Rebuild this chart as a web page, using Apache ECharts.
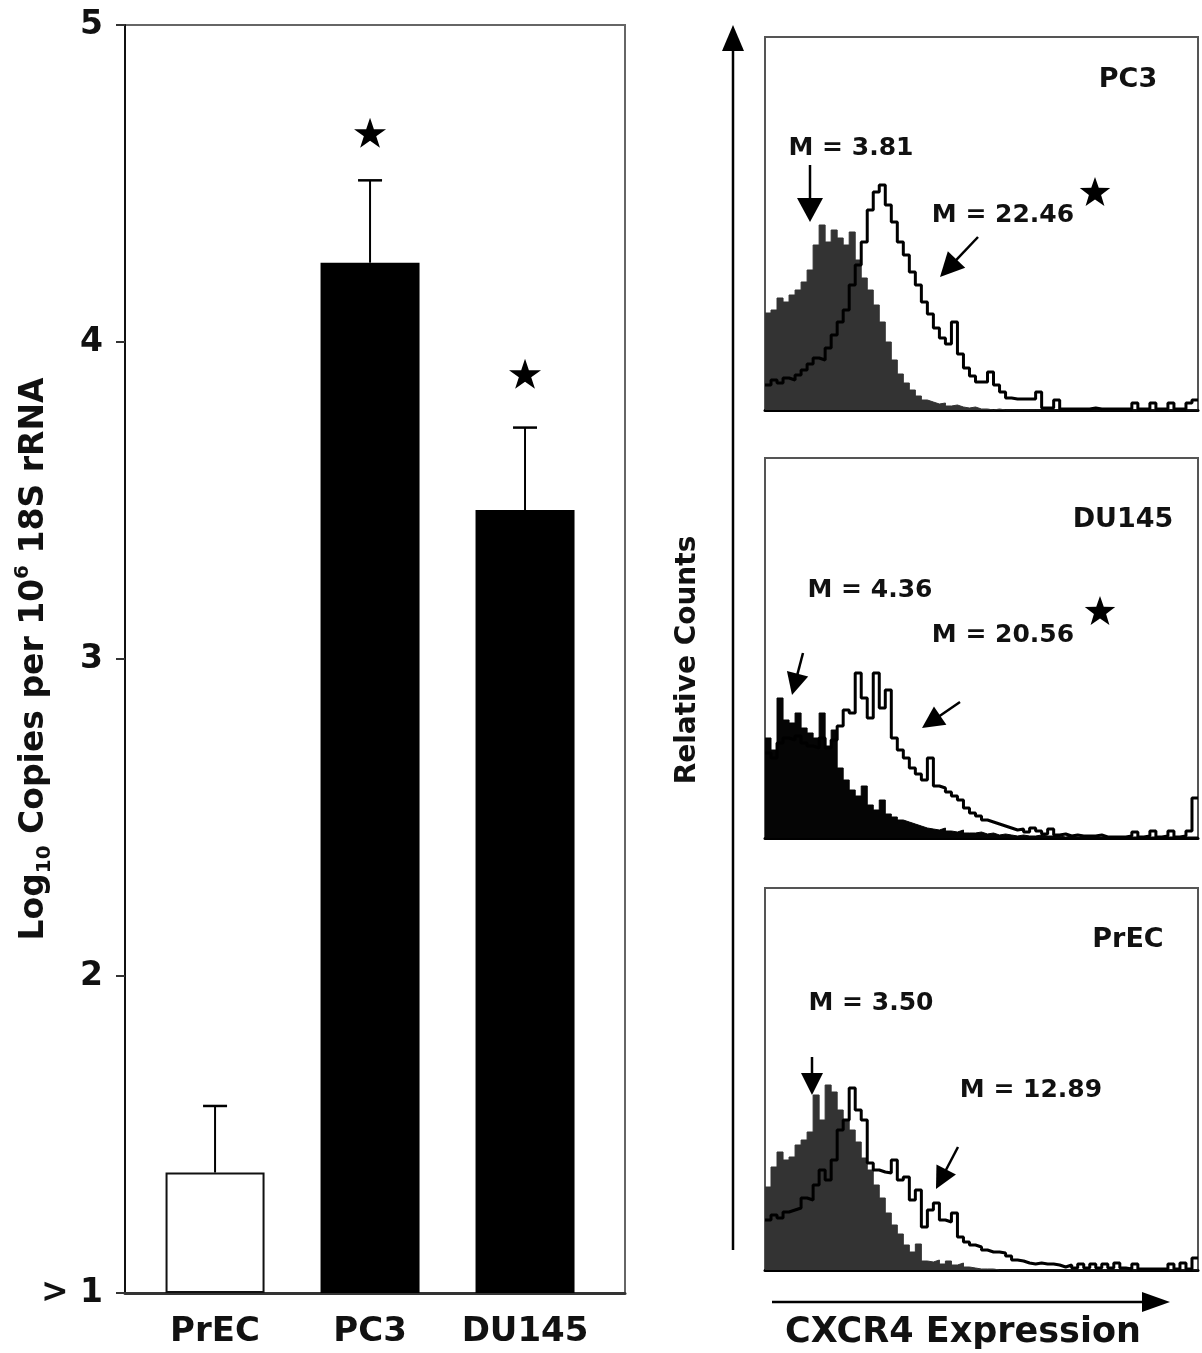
<!DOCTYPE html>
<html><head><meta charset="utf-8">
<script src="https://cdn.jsdelivr.net/npm/echarts@6/dist/echarts.min.js"></script>
<style>html,body{margin:0;padding:0;background:#fff}#c{width:1202px;height:1353px}</style>
</head><body><div id="c"></div>
<script>
// ---------- Left panel: qPCR bar chart ----------
const categories = ['PrEC', 'PC3', 'DU145'];
const meanValues = [1.38, 4.25, 3.47];
const errorTops = [1.59, 4.51, 3.73];
const starValues = [null, 4.66, 3.90];
const yTickValues = [1, 2, 3, 4, 5];

// ---------- Right panels: flow cytometry histograms (72 bins) ----------
const pc3Isotype = [97,100,112,108,115,120,128,140,165,185,168,180,172,165,178,150,132,120,105,88,68,50,36,27,20,14,10,8,6,7,4,5,3,2,3,1,1,0,1,0,0,0,0,0,0,0,0,0,0,0,0,0,0,0,0,0,0,0,0,0,0,0,0,0,0,0,0,0,0,0,0,0];
const pc3Cxcr4 = [25,30,27,32,30,35,40,46,52,50,62,75,88,100,125,145,168,200,218,225,205,188,168,155,138,125,108,96,82,72,66,88,56,42,34,28,28,38,25,18,12,11,11,11,11,18,2,2,10,1,1,1,1,1,2,1,1,1,1,1,1,7,1,1,7,1,1,7,1,1,7,10];
const du145Isotype = [100,88,140,118,115,125,110,105,100,125,92,108,70,58,48,42,52,33,28,38,24,21,18,16,14,12,10,9,8,10,7,6,8,5,5,6,4,5,3,4,3,2,3,2,2,3,2,2,2,1,2,1,1,2,1,1,1,1,1,1,1,1,1,1,1,1,1,1,1,1,1,1];
const du145Cxcr4 = [85,80,95,100,98,102,95,92,90,100,90,98,112,128,125,165,140,120,165,130,148,100,88,80,70,64,58,80,52,50,46,42,38,30,25,22,18,16,14,12,10,8,9,6,10,7,4,9,3,4,2,3,2,2,2,3,1,1,1,1,2,6,1,2,7,1,2,7,1,2,7,40];
const precIsotype = [83,103,118,110,113,125,130,138,175,150,185,178,160,150,140,128,112,100,85,72,57,45,36,25,18,26,9,8,10,6,9,5,7,3,2,1,1,1,0,0,0,0,0,0,0,0,0,0,0,0,0,0,0,0,0,0,0,0,0,0,0,0,0,0,0,0,0,0,0,0,0,0];
const precCxcr4 = [50,55,52,58,60,62,72,70,85,100,90,110,140,150,182,160,150,107,100,98,97,110,90,93,70,80,43,60,67,50,48,57,33,28,25,23,20,18,18,17,14,10,9,7,6,7,6,6,5,3,5,2,6,2,6,2,6,2,7,2,1,6,1,1,1,1,1,6,1,7,1,12];
const panelNames = ['PC3', 'DU145', 'PrEC'];
const isoMeans = ['M = 3.81', 'M = 4.36', 'M = 3.50'];
const cxcr4Means = ['M = 22.46', 'M = 20.56', 'M = 12.89'];

const FONT = 'DejaVu Sans';
const chart = echarts.init(document.getElementById('c'), null, {renderer: 'canvas'});

function stepData(arr) {
  const d = arr.map((v, i) => [i, v]);
  d.push([arr.length, arr[arr.length - 1]]);
  return d;
}
const starPath = 'path://M50,0 L61.8,35.1 L98.9,35.1 L68.9,56.9 L80.3,91.9 L50,70.2 L19.7,91.9 L31.1,56.9 L1.1,35.1 L38.2,35.1 Z';

function arrow(x1, y1, x2, y2, headLen, headW, lw) {
  const dx = x2 - x1, dy = y2 - y1, L = Math.sqrt(dx*dx + dy*dy);
  const ux = dx / L, uy = dy / L, px = -uy, py = ux;
  const bx = x2 - ux*headLen, by = y2 - uy*headLen;
  return [
    {type: 'line', shape: {x1: x1, y1: y1, x2: bx + ux*2, y2: by + uy*2}, style: {stroke: '#000', lineWidth: lw}},
    {type: 'polygon', shape: {points: [[x2, y2], [bx + px*headW/2, by + py*headW/2], [bx - px*headW/2, by - py*headW/2]]}, style: {fill: '#000'}}
  ];
}
function starPoly(cx, cy, r) {
  const pts = [];
  for (let k = 0; k < 10; k++) {
    const rr = k % 2 === 0 ? r : r * 0.4;
    const a = -Math.PI/2 + k * Math.PI/5;
    pts.push([cx + rr*Math.cos(a), cy + rr*Math.sin(a)]);
  }
  return {type: 'polygon', shape: {points: pts}, style: {fill: '#000'}};
}
function txt(s, x, y, size, rot) {
  return {type: 'text', x: x, y: y, rotation: rot || 0,
    style: {text: s, fontFamily: FONT, fontWeight: 'bold', fontSize: size, fill: '#111',
      align: 'center', verticalAlign: 'middle', textAlign: 'center', textVerticalAlign: 'middle'}};
}

const panels = [
  {top: 37, height: 373, iso: pc3Isotype, cx: pc3Cxcr4, fill: '#333'},
  {top: 458, height: 380, iso: du145Isotype, cx: du145Cxcr4, fill: '#050505'},
  {top: 888, height: 382, iso: precIsotype, cx: precCxcr4, fill: '#333'}
];

const grids = [{left: 125, top: 25, width: 500, height: 1268, outerBoundsMode: 'none', containLabel: false, show: true, borderColor: '#666', borderWidth: 2, backgroundColor: 'transparent'}];
const xAxes = [{
  type: 'value', gridIndex: 0, min: -0.581, max: 2.645,
  splitLine: {show: false},
  axisLine: {show: true, onZero: false, lineStyle: {color: '#333', width: 3}},
  axisTick: {show: false},
  axisLabel: {customValues: [0, 1, 2], margin: 22, color: '#111', fontFamily: FONT, fontWeight: 'bold', fontSize: 34,
    formatter: v => Math.abs(v - Math.round(v)) < 1e-6 && categories[Math.round(v)] ? categories[Math.round(v)] : ''}
}];
const yAxes = [{
  type: 'value', gridIndex: 0, min: 1, max: 5, interval: 1, startValue: 1,
  splitLine: {show: false},
  axisLine: {show: true, onZero: false, lineStyle: {color: '#111', width: 2}},
  axisTick: {show: true, length: 9, lineStyle: {color: '#333', width: 2}},
  axisLabel: {margin: 22, color: '#111', fontFamily: FONT, fontWeight: 'bold', fontSize: 33,
    formatter: v => v === 1 ? '> 1' : String(v)},
  name: '{a|Log}{s|10}{a| Copies per 10}{p|6}{a| 18S rRNA}',
  nameLocation: 'middle', nameRotate: 90, nameGap: 70, nameMoveOverlap: false,
  nameTextStyle: {rich: {
    a: {fontFamily: FONT, fontWeight: 'bold', fontSize: 33, color: '#111', lineHeight: 42, verticalAlign: 'middle'},
    s: {fontFamily: FONT, fontWeight: 'bold', fontSize: 20, color: '#111', lineHeight: 22, verticalAlign: 'bottom'},
    p: {fontFamily: FONT, fontWeight: 'bold', fontSize: 20, color: '#111', lineHeight: 22, verticalAlign: 'top'}
  }}
}];

const series = [
  {type: 'bar', xAxisIndex: 0, yAxisIndex: 0, barWidth: 99, clip: true,
   data: meanValues.map((v, i) => ({value: [i, v], itemStyle: i === 0 ? {color: '#fff', borderColor: '#111', borderWidth: 2} : {color: '#000'}}))},
  {type: 'custom', xAxisIndex: 0, yAxisIndex: 0, z: 3,
   data: categories.map((c, i) => [i, meanValues[i], errorTops[i]]),
   renderItem: function (params, api) {
     const x = api.value(0);
     const p0 = api.coord([x, api.value(1)]);
     const p1 = api.coord([x, api.value(2)]);
     return {type: 'group', children: [
       {type: 'line', shape: {x1: p0[0], y1: p0[1], x2: p1[0], y2: p1[1]}, style: {stroke: '#000', lineWidth: 2}},
       {type: 'line', shape: {x1: p1[0] - 12, y1: p1[1], x2: p1[0] + 12, y2: p1[1]}, style: {stroke: '#000', lineWidth: 2.5}}
     ]};
   }},
  {type: 'scatter', xAxisIndex: 0, yAxisIndex: 0, symbol: starPath, symbolSize: 32, symbolKeepAspect: true,
   itemStyle: {color: '#000', opacity: 1},
   data: starValues.map((v, i) => v == null ? null : [i, v]).filter(d => d)}
];

const graphics = [];
panels.forEach((p, k) => {
  const gi = k + 1;
  grids.push({left: 765, top: p.top, width: 433, height: p.height, outerBoundsMode: 'none', containLabel: false, show: true, borderColor: '#555', borderWidth: 2, backgroundColor: 'transparent'});
  xAxes.push({type: 'value', gridIndex: gi, min: 0, max: 72,
    splitLine: {show: false}, axisTick: {show: false}, axisLabel: {show: false},
    axisLine: {show: true, onZero: false, lineStyle: {color: '#000', width: 3}}});
  yAxes.push({type: 'value', gridIndex: gi, min: 0, max: p.height, show: false, splitLine: {show: false}});
  series.push({type: 'line', xAxisIndex: gi, yAxisIndex: gi, step: 'end', symbol: 'none', z: 2,
    data: stepData(p.iso), lineStyle: {color: p.fill, width: 1}, areaStyle: {color: p.fill, opacity: 1}});
  series.push({type: 'line', xAxisIndex: gi, yAxisIndex: gi, step: 'end', symbol: 'none', z: 3,
    data: stepData(p.cx), lineStyle: {color: '#000', width: 3}});
});

// annotations
graphics.push(txt(panelNames[0], 1128, 80, 27));
graphics.push(txt(isoMeans[0], 851, 148, 25));
graphics.push(txt(cxcr4Means[0], 1003, 215, 25));
graphics.push(starPoly(1095, 193, 16));
graphics.push(...arrow(810, 165, 810, 222, 24, 26, 2.5));
graphics.push(...arrow(978, 237, 940, 277, 24, 24, 2.5));

graphics.push(txt(panelNames[1], 1123, 520, 27));
graphics.push(txt(isoMeans[1], 870, 590, 25));
graphics.push(txt(cxcr4Means[1], 1003, 635, 25));
graphics.push(starPoly(1100, 612, 16));
graphics.push(...arrow(803, 653, 792, 695, 22, 22, 2.5));
graphics.push(...arrow(960, 702, 922, 728, 22, 22, 2.5));

graphics.push(txt(panelNames[2], 1128, 940, 27));
graphics.push(txt(isoMeans[2], 871, 1003, 25));
graphics.push(txt(cxcr4Means[2], 1031, 1090, 25));
graphics.push(...arrow(812, 1057, 812, 1095, 22, 22, 2.5));
graphics.push(...arrow(958, 1147, 936, 1189, 22, 22, 2.5));

graphics.push(...arrow(733, 1250, 733, 25, 26, 22, 2.5));
graphics.push(txt('Relative Counts', 688, 660, 28, Math.PI / 2));
graphics.push(...arrow(772, 1302, 1170, 1302, 28, 20, 2.5));
graphics.push(txt('CXCR4 Expression', 963, 1333, 35));

chart.setOption({
  animation: false,
  backgroundColor: '#fff',
  grid: grids, xAxis: xAxes, yAxis: yAxes, series: series,
  graphic: {elements: graphics}
});
</script></body></html>
